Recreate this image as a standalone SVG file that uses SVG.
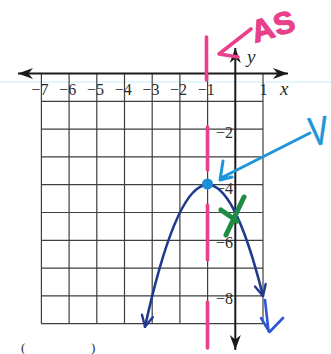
<svg xmlns="http://www.w3.org/2000/svg" width="331" height="354" viewBox="0 0 331 354">
<style>
.grid{stroke:#3f3f3f;stroke-width:1.2;fill:none}
.axis{stroke:#1a1a1a;stroke-width:2;fill:none}
.lbl{font-family:"Liberation Serif","Times New Roman",serif;font-size:16px;fill:#2a2a2a}
.var{font-family:"Liberation Serif","Times New Roman",serif;font-size:19px;font-style:italic;fill:#2a2a2a}
.pink{stroke:#e9408c;stroke-width:3.6;fill:none;stroke-linecap:round;stroke-linejoin:round}
.sky{stroke:#1d95d8;stroke-width:3;fill:none;stroke-linecap:round;stroke-linejoin:round}
.curve{stroke:#203a8f;stroke-width:2.6;fill:none;stroke-linecap:round}
.green{stroke:#1f8c45;stroke-width:5;fill:none;stroke-linecap:round}
.hand{font-family:"Liberation Sans",Arial,sans-serif}
</style>
<defs>
<marker id="axArrow" markerUnits="userSpaceOnUse" viewBox="-16 -7 17 14" refX="0" refY="0" markerWidth="17" markerHeight="14" orient="auto-start-reverse">
<path d="M0,0 L-15,-5.5 L-10.5,0 L-15,5.5 Z" fill="#1a1a1a"/>
</marker>
<marker id="curveArrow" markerUnits="userSpaceOnUse" viewBox="-14 -8 16 16" refX="0" refY="0" markerWidth="16" markerHeight="16" orient="auto-start-reverse">
<path d="M-11,-5.5 L0,0 L-11,5.5" fill="none" stroke="#203a8f" stroke-width="2.4" stroke-linecap="round" stroke-linejoin="round"/>
</marker>
</defs>
<rect width="331" height="354" fill="#ffffff"/>
<line x1="0" y1="82" x2="331" y2="82" stroke="#c9ecf8" stroke-width="1"/>
<g id="grid" class="grid">
<path d="M41.4,73.5V323.7M69.1,73.5V323.7M96.8,73.5V323.7M124.5,73.5V323.7M152.2,73.5V323.7M179.9,73.5V323.7M207.6,73.5V323.7M263,73.5V323.7"/>
<path d="M41.4,101.3H263M41.4,129.1H263M41.4,156.9H263M41.4,184.7H263M41.4,212.5H263M41.4,240.3H263M41.4,268.1H263M41.4,295.9H263M41.4,323.7H263"/>
</g>
<g id="axes" class="axis">
<line x1="18" y1="73.5" x2="288" y2="73.5" marker-start="url(#axArrow)" marker-end="url(#axArrow)"/>
<line x1="235.3" y1="48" x2="235.3" y2="350" marker-start="url(#axArrow)" marker-end="url(#axArrow)"/>
</g>
<g id="x-labels" class="lbl">
<text x="31.6" y="95">−7</text>
<text x="59.3" y="95">−6</text>
<text x="87" y="95">−5</text>
<text x="114.7" y="95">−4</text>
<text x="142.4" y="95">−3</text>
<text x="170.1" y="95">−2</text>
<text x="197.8" y="95">−1</text>
<text x="263.5" y="95" text-anchor="middle">1</text>
</g>
<g id="y-labels" class="lbl" text-anchor="end">
<text x="233" y="137.5">−2</text>
<text x="233" y="193.5">−4</text>
<text x="233" y="248">−6</text>
<text x="233" y="304">−8</text>
</g>
<text class="var" x="280" y="95">x</text>
<text class="var" x="247" y="63">y</text>
<g id="axis-of-symmetry" class="pink">
<path d="M206.5,37V80M207.5,127V170M207.5,205V260M207.5,302V348"/>
<path d="M251,29L219,54L238,57"/>
<text class="hand" x="255" y="43" transform="rotate(-17 255 43)" font-size="31" letter-spacing="1" fill="#e9408c" stroke="#e9408c" stroke-width="1.2" font-weight="bold">AS</text>
</g>
<g id="parabola">
<path class="curve" d="M145,326.7 Q204,59.1 263,295.9" marker-start="url(#curveArrow)" marker-end="url(#curveArrow)"/>
<path d="M265,300L268.5,331M261,318L269.5,332L283,318" fill="none" stroke="#2f55d4" stroke-width="2.6" stroke-linecap="round" stroke-linejoin="round"/>
</g>
<g id="vertex">
<circle cx="207.5" cy="184" r="5.5" fill="#1d8fd6"/>
<path class="sky" d="M310,133L221,178M223,161L220,180L232,177"/>
<text class="hand" transform="translate(311,146) rotate(-8) scale(0.72,1)" font-size="40" fill="#1d95d8" stroke="#1d95d8" stroke-width="0.8">V</text>
</g>
<g id="y-intercept" class="green">
<path d="M244,197L226,235M221,210L237,221"/>
</g>
<g id="point-label" class="lbl">
<text x="21" y="352" style="font-size:13px">(</text>
<text x="91" y="352" style="font-size:13px">)</text>
</g>
</svg>
